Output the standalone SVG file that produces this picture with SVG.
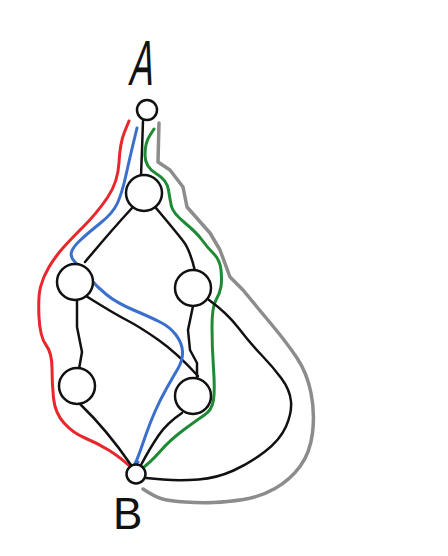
<svg xmlns="http://www.w3.org/2000/svg" width="448" height="556" viewBox="0 0 448 556">
<style>
.n{fill:#fff;stroke:#111;stroke-width:2.5}
.e{fill:none;stroke:#111;stroke-width:2.5;stroke-linecap:round;stroke-linejoin:round}
.p{fill:none;stroke-width:3;stroke-linecap:round;stroke-linejoin:round}
.red{stroke:#e8262b}.blue{stroke:#3a6fcb}.green{stroke:#1f8a36}.gray{stroke:#8c8c8c;stroke-width:3.5}
.lbl{font-family:"Liberation Sans",sans-serif;fill:#111}
</style>
<rect width="448" height="556" fill="#fff"/>
<g id="connectors">
<path class="p gray" d="M159,123 L158,162 L170,170 L183,187 L187,207 L210,233 L220,250 L230,277 L243,290 L257,307 L272,325 Q287,343 297,358 Q307,373 311,393 Q315,413 312.5,433 Q310,453 300,466.5 Q290,480 275,488.5 Q260,497 243.5,499.5 Q227,502 213.5,502.5 Q200,503 185,502 Q170,501 162.5,499 Q155,497 143,489"/>
<path class="p red" d="M129,121 L124.5,132 Q120,143 119,162.5 Q118,182 107.5,197.5 Q97,213 83.5,226.5 Q70,240 62.5,248.5 Q55,257 49,267 Q43,277 40.5,287 Q38,297 39,317 Q40,337 46,345 Q52,353 52,368 Q52,383 53.5,398 Q55,413 64,423 Q73,433 85,438 Q97,443 108.5,450 Q120,457 133,469"/>
<path class="p green" d="M154,129 L149.5,136 Q145,143 145,155 Q145,167 156,173.5 Q167,180 168.5,190 Q170,200 171.5,206.5 Q173,213 185,223 Q197,233 202,240 Q207,247 213.5,253.5 Q220,260 221,270 Q222,280 221,286.5 Q220,293 216,300 Q212,307 212,327 Q212,347 213.5,368.5 Q215,390 213.5,400 Q212,410 204.5,415 Q197,420 183.5,430 Q170,440 160,451.5 Q150,463 140,470"/>
<polyline class="e" points="143,121 142,150 141,176"/>
<path class="e" d="M132,208 Q110,232 85,262"/>
<path class="e" d="M156,208 Q177,233 183.5,241.5 Q190,250 195,271"/>
<polyline class="e" points="77,301 77,327 82,352 79,369"/>
<path class="e" d="M86,296 Q113,313 126.5,320 Q140,327 158.5,340 Q177,353 198,376"/>
<polyline class="e" points="193,306 188,330 190,350 197,363 197,379"/>
<path class="e" d="M209,300 Q227,313 238.5,328 Q250,343 261.5,355 Q273,367 281.5,378.5 Q290,390 291,401.5 Q292,413 286,426.5 Q280,440 265,451.5 Q250,463 233.5,470.5 Q217,478 198.5,479.5 Q180,481 163,479.5 L146,478"/>
<path class="e" d="M80,404 Q107,430 131,465"/>
<path class="e" d="M182,413 Q167,423 158.5,435.5 Q150,448 141,465"/>
<path class="p blue" d="M137,128 L133.5,142.5 Q130,157 126,175 Q122,193 117.5,203 Q113,213 100.5,223 Q88,233 80.5,240 Q73,247 71.5,252 Q70,257 75,262 Q80,267 88.5,277 Q97,287 107,295 Q117,303 133.5,310 Q150,317 160,322 Q170,327 176,335 Q182,343 182.5,351.5 Q183,360 178,368.5 Q173,377 166.5,388.5 Q160,400 155,411.5 Q150,423 146.5,433 Q143,443 140,451.5 Q137,460 134,466 L138,462"/>
</g>
<g id="labelA"><text class="lbl" x="0" y="0" font-size="64" transform="translate(128,85) skewX(-10) scale(0.55,1)">A</text></g>
<g id="labelB"><text class="lbl" x="0" y="0" font-size="44" transform="translate(113,529)">B</text></g>
<g id="nodeA"><circle class="n" cx="147" cy="110" r="10"/></g>
<g id="n1"><circle class="n" cx="144" cy="193" r="18"/></g>
<g id="n2"><circle class="n" cx="75" cy="282" r="18"/></g>
<g id="n3"><circle class="n" cx="193" cy="288" r="18"/></g>
<g id="n4"><circle class="n" cx="77" cy="386" r="18"/></g>
<g id="n5"><circle class="n" cx="193" cy="396" r="18"/></g>
<g id="nodeB"><circle class="n" cx="136" cy="474" r="9.5"/></g>
</svg>
